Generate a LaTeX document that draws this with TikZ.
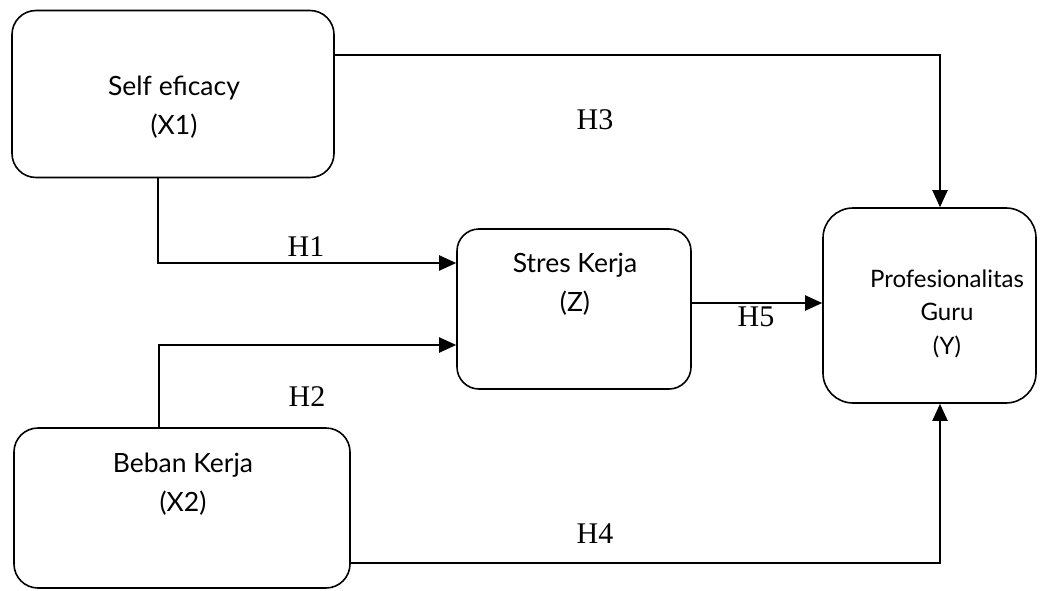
\documentclass[tikz,border=0pt]{standalone}
\usepackage{fontspec}
\setmainfont{Liberation Serif}
\newfontfamily\latofont{Lato}
\usetikzlibrary{arrows.meta}
\tikzstyle{var}=[draw, line width=1.6pt, rounded corners=24pt, inner sep=0pt]
\tikzstyle{vartext}=[font=\latofont\fontsize{26.5}{39}\selectfont, align=center]
\tikzstyle{hyp}=[font=\fontsize{30}{36}\selectfont, inner sep=0pt]
\tikzstyle{link}=[line width=2pt, -{Triangle[length=17pt,width=15pt]}]

\begin{document}
\begin{tikzpicture}[x=1pt, y=-1pt]
	\useasboundingbox (0,0) rectangle (1046,591);
	% variables
	\node[var, minimum width=322pt, minimum height=167pt] (x1) at (173,94) {};
	\node[var, minimum width=234pt, minimum height=160pt, rounded corners=22pt] (z) at (574,309) {};
	\node[var, minimum width=213pt, minimum height=195pt, rounded corners=30pt] (y) at (929.5,305.5) {};
	\node[var, minimum width=336pt, minimum height=160pt] (x2) at (182,508) {};
	\node[vartext] (x1t) at (174,107.5) {Self eficacy\\(X1)};
	\node[vartext] (zt) at (575,284) {Stres Kerja\\(Z)};
	\node[vartext, font=\latofont\fontsize{24}{33.5}\selectfont] (yt) at (947,313.5) {Profesionalitas\\Guru\\(Y)};
	\node[vartext] (x2t) at (183,484) {Beban Kerja\\(X2)};
	% paths
	\coordinate (c1) at (158,263);
	\coordinate (c2) at (159,345);
	\coordinate (c3) at (940,55);
	\coordinate (c4) at (940,563);
	\draw[link] (x1.south -| c1) -- (c1) -- (z.west |- c1);
	\draw[link] (x2.north -| c2) -- (c2) -- (z.west |- c2);
	\draw[link] (x1.east |- c3) -- (c3) -- (y.north -| c3);
	\draw[link] (x2.east |- c4) -- (c4) -- (y.south -| c4);
	\draw[link] ([yshift=6pt]z.east) -- ([yshift=6pt]z.east -| y.west);
	% hypotheses
	\node[hyp] (h1) at (306,247) {H1};
	\node[hyp] (h2) at (307,397) {H2};
	\node[hyp] (h3) at (595,120) {H3};
	\node[hyp] (h4) at (595,534) {H4};
	\node[hyp] (h5) at (756,317) {H5};
\end{tikzpicture}
\end{document}
